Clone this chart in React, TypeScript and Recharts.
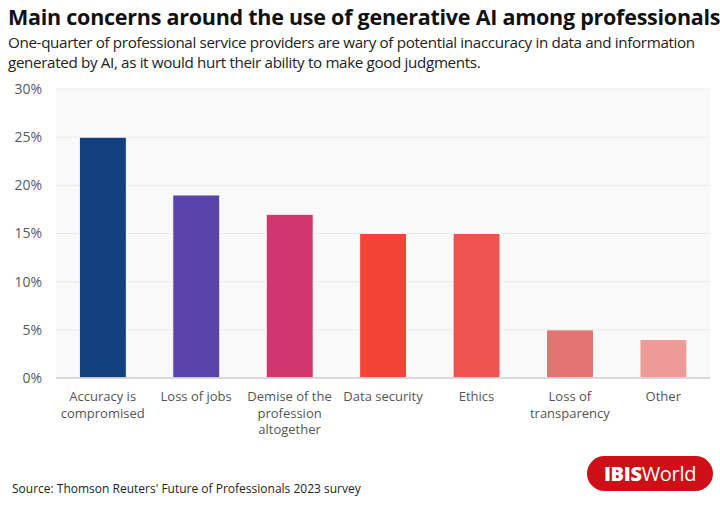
import React from 'react';
import { BarChart, Bar, XAxis, YAxis, CartesianGrid, Cell, ReferenceLine } from 'recharts';

const categories = [
  'Accuracy is\ncompromised',
  'Loss of jobs',
  'Demise of the\nprofession\naltogether',
  'Data security',
  'Ethics',
  'Loss of\ntransparency',
  'Other',
];
const values = [25, 19, 17, 15, 15, 5, 4];
const colors = ['#123f7e', '#5a43aa', '#d1376f', '#f34236', '#ee5350', '#e27471', '#ee9a99'];
const yTicks = [0, 5, 10, 15, 20, 25, 30];

const data = categories.map((c, i) => ({ name: c, value: values[i] }));

const FONT = '"Open Sans", "Noto Sans", sans-serif';

const XTick = (props: any) => {
  const { x, y, payload } = props;
  const lines = String(payload.value).split('\n');
  return (
    <g transform={`translate(${x},${y})`}>
      {lines.map((l, i) => (
        <text key={i} x={0} y={i * 16.5} dy={15} textAnchor="middle" fill="#555" fontSize={13} fontFamily={FONT}>
          {l}
        </text>
      ))}
    </g>
  );
};

export default function App() {
  return (
    <div style={{ position: 'absolute', left: 0, top: 0, width: 720, height: 505, background: '#fff', fontFamily: FONT, overflow: 'hidden' }}>
      <div style={{ position: 'absolute', left: 8, top: 2, fontSize: 21.5, fontWeight: 700, color: '#111', whiteSpace: 'nowrap', letterSpacing: -0.25 }}>
        Main concerns around the use of generative AI among professionals
      </div>
      <div style={{ position: 'absolute', left: 8, top: 32, fontSize: 15.2, lineHeight: '20px', color: '#222', letterSpacing: -0.35, whiteSpace: 'nowrap' }}>
        One-quarter of professional service providers are wary of potential inaccuracy in data and information
        <br />
        generated by AI, as it would hurt their ability to make good judgments.
      </div>
      <div style={{ position: 'absolute', left: 0, top: 0 }}>
        <BarChart width={720} height={505} data={data} margin={{ top: 89, right: 10, bottom: 67, left: 0 }} barCategoryGap="25%">
          <CartesianGrid vertical={false} stroke="#ebebeb" fill="#f9f9f9" />
          <XAxis dataKey="name" axisLine={false} tickLine={false} height={60} interval={0} tick={<XTick />} />
          <YAxis
            width={56}
            domain={[0, 30]}
            ticks={yTicks}
            axisLine={false}
            tickLine={false}
            tickMargin={8}
            tickFormatter={(v: number) => `${v}%`}
            tick={{ fill: '#5a5a5a', fontSize: 14, fontFamily: FONT }}
          />
          <Bar dataKey="value" isAnimationActive={false} stroke="#fff" strokeWidth={1}>
            {data.map((d, i) => (
              <Cell key={i} fill={colors[i]} />
            ))}
          </Bar>
          <ReferenceLine y={0} stroke="#cfcfcf" strokeWidth={1.5} />
        </BarChart>
      </div>
      <div style={{ position: 'absolute', left: 12, top: 480, fontSize: 12, color: '#222' }}>
        Source: Thomson Reuters' Future of Professionals 2023 survey
      </div>
      <div style={{ position: 'absolute', left: 587, top: 456, width: 126, height: 35, borderRadius: 18, background: '#cc1016', color: '#fff', display: 'flex', alignItems: 'center', justifyContent: 'center', fontSize: 20, letterSpacing: -0.3 }}>
        <span style={{ fontWeight: 800 }}>IBIS</span>
        <span style={{ fontWeight: 400 }}>World</span>
      </div>
    </div>
  );
}
